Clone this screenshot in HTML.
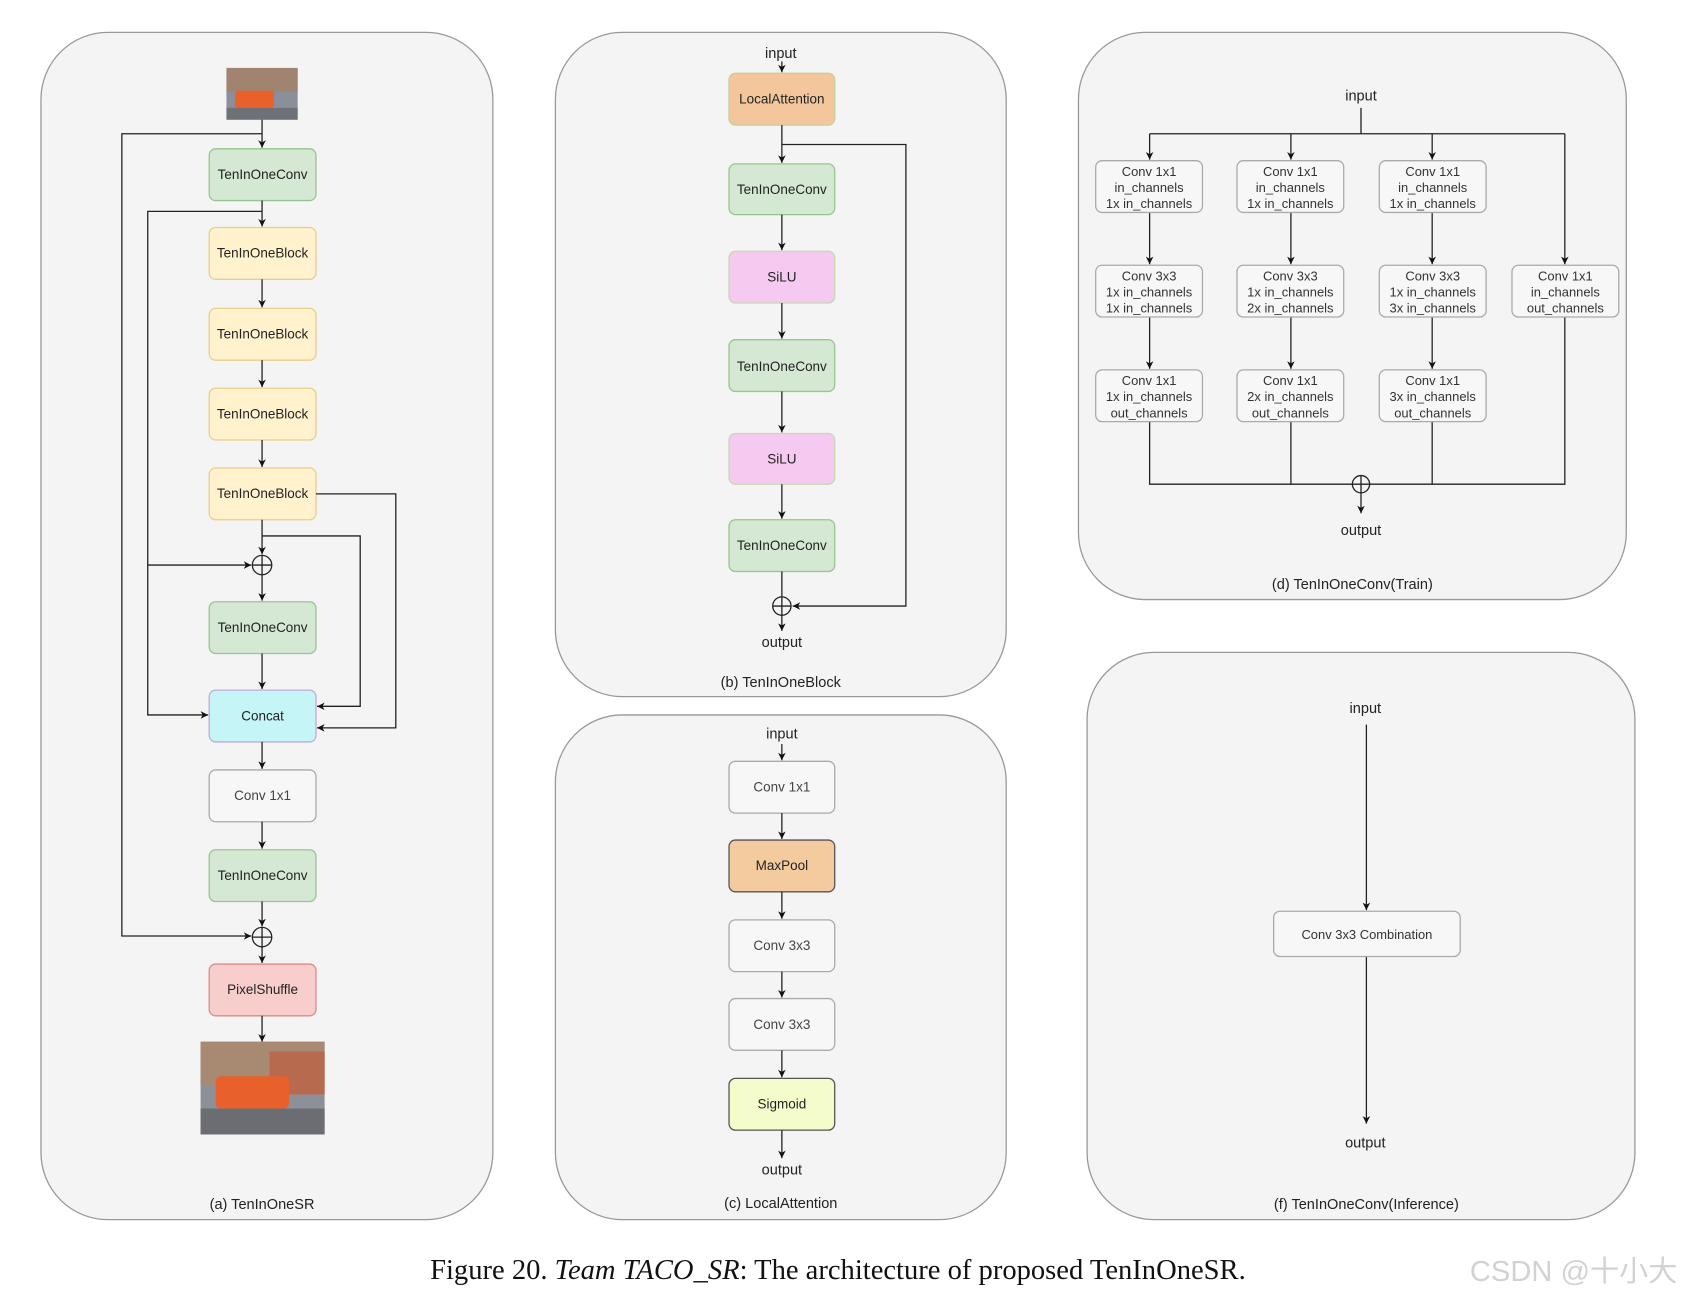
<!DOCTYPE html>
<html><head><meta charset="utf-8"><style>
html,body{margin:0;padding:0;background:#fff;width:1691px;height:1299px;overflow:hidden}
svg{display:block}
text{font-family:"Liberation Sans",Arial,sans-serif}
</style></head><body>
<svg width="1691" height="1299" viewBox="0 0 1568 1204.6" preserveAspectRatio="none" xmlns="http://www.w3.org/2000/svg">
<defs>
<marker id="ar" markerWidth="8" markerHeight="8" refX="7" refY="4" orient="auto" markerUnits="userSpaceOnUse"><path d="M0,0.5 L7,4 L0,7.5 L2,4 Z" fill="#111"/></marker>
</defs>
<g fill="#f4f4f4" stroke="#999" stroke-width="1.2">
<rect x="38" y="30" width="419" height="1101" rx="62"/>
<rect x="515" y="30" width="418" height="616" rx="62"/>
<rect x="515" y="663" width="418" height="468" rx="62"/>
<rect x="1000" y="30" width="508" height="526" rx="62"/>
<rect x="1008" y="605" width="508" height="526" rx="62"/>
</g>

<g>
<rect x="210" y="63" width="66" height="48" fill="#8a8f99"/>
<rect x="210" y="63" width="66" height="22" fill="#a08470"/>
<rect x="218" y="84" width="36" height="16" fill="#e8612b" rx="3"/>
<rect x="210" y="100" width="66" height="11" fill="#6f7178"/>
<rect x="186" y="966" width="115" height="86" fill="#8c9099"/>
<rect x="186" y="966" width="115" height="40" fill="#a88a72"/>
<rect x="250" y="975" width="51" height="40" fill="#b86a4e"/>
<rect x="200" y="998" width="68" height="30" fill="#e8612b" rx="5"/>
<rect x="186" y="1028" width="115" height="24" fill="#6b6d73"/>
</g>
<g stroke-width="1.2">
<g fill="#d5e8d4" stroke="#97c58e">
<rect x="194" y="138" width="99" height="48" rx="6"/>
<rect x="194" y="558" width="99" height="48" rx="6"/>
<rect x="194" y="788" width="99" height="48" rx="6"/>
<rect x="676" y="152" width="98" height="47" rx="6"/>
<rect x="676" y="315" width="98" height="48" rx="6"/>
<rect x="676" y="482" width="98" height="48" rx="6"/>
</g>
<g fill="#fff2cc" stroke="#e6cf8a">
<rect x="194" y="211" width="99" height="48" rx="6"/>
<rect x="194" y="286" width="99" height="48" rx="6"/>
<rect x="194" y="360" width="99" height="48" rx="6"/>
<rect x="194" y="434" width="99" height="48" rx="6"/>
</g>
<rect x="194" y="640" width="99" height="48" rx="6" fill="#c5f5f7" stroke="#c3a9d6"/>
<rect x="194" y="714" width="99" height="48" rx="6" fill="#f7f7f7" stroke="#aaa"/>
<rect x="194" y="894" width="99" height="48" rx="6" fill="#f8cecc" stroke="#dc8a88"/>
<rect x="676" y="68" width="98" height="48" rx="6" fill="#f3c79b" stroke="#c5cf9a"/>
<rect x="676" y="233" width="98" height="48" rx="6" fill="#f5c9f0" stroke="#c5d9b0"/>
<rect x="676" y="402" width="98" height="47" rx="6" fill="#f5c9f0" stroke="#c5d9b0"/>
<g fill="#f7f7f7" stroke="#aaa">
<rect x="676" y="706" width="98" height="48" rx="6"/>
<rect x="676" y="853" width="98" height="48" rx="6"/>
<rect x="676" y="926" width="98" height="48" rx="6"/>
</g>
<rect x="676" y="779" width="98" height="48" rx="6" fill="#f3cb9f" stroke="#555"/>
<rect x="676" y="1000" width="98" height="48" rx="6" fill="#f5fccc" stroke="#555"/>
</g>
<g font-size="12.5" text-anchor="middle" fill="#222">
<text x="243.5" y="166">TenInOneConv</text>
<text x="243.5" y="239">TenInOneBlock</text>
<text x="243.5" y="314">TenInOneBlock</text>
<text x="243.5" y="388">TenInOneBlock</text>
<text x="243.5" y="462">TenInOneBlock</text>
<text x="243.5" y="586">TenInOneConv</text>
<text x="243.5" y="668">Concat</text>
<text x="243.5" y="742" fill="#444">Conv 1x1</text>
<text x="243.5" y="816">TenInOneConv</text>
<text x="243.5" y="922">PixelShuffle</text>
<text x="725" y="96">LocalAttention</text>
<text x="725" y="180">TenInOneConv</text>
<text x="725" y="261">SiLU</text>
<text x="725" y="344">TenInOneConv</text>
<text x="725" y="430">SiLU</text>
<text x="725" y="510">TenInOneConv</text>
<text x="725" y="734" fill="#444">Conv 1x1</text>
<text x="725" y="807">MaxPool</text>
<text x="725" y="881" fill="#444">Conv 3x3</text>
<text x="725" y="954" fill="#444">Conv 3x3</text>
<text x="725" y="1028">Sigmoid</text>
</g>
<g font-size="13.5" text-anchor="middle" fill="#222">
<text x="243" y="1121">(a) TenInOneSR</text>
<text x="724" y="54">input</text>
<text x="725" y="600">output</text>
<text x="724" y="637">(b) TenInOneBlock</text>
<text x="725" y="685">input</text>
<text x="725" y="1089">output</text>
<text x="724" y="1120">(c) LocalAttention</text>
<text x="1262" y="93">input</text>
<text x="1262" y="496">output</text>
<text x="1254" y="546">(d) TenInOneConv(Train)</text>
<text x="1266" y="661">input</text>
<text x="1266" y="1064">output</text>
<text x="1267" y="1121">(f) TenInOneConv(Inference)</text>
</g>

<g fill="none" stroke="#222" stroke-width="1.2">
<path d="M243,111 V137" marker-end="url(#ar)"/>
<path d="M243,124 H113 V868 H233" marker-end="url(#ar)"/>
<path d="M243,186 V210" marker-end="url(#ar)"/>
<path d="M243,196 H137 V663 H193" marker-end="url(#ar)"/>
<path d="M137,524 H233" marker-end="url(#ar)"/>
<path d="M243,259 V285" marker-end="url(#ar)"/>
<path d="M243,334 V359" marker-end="url(#ar)"/>
<path d="M243,408 V433" marker-end="url(#ar)"/>
<path d="M243,482 V514" marker-end="url(#ar)"/>
<path d="M243,497 H334 V655 H294" marker-end="url(#ar)"/>
<path d="M293,458 H367 V675 H294" marker-end="url(#ar)"/>
<circle cx="243" cy="524" r="9"/><path d="M234,524H252M243,515V533"/>
<path d="M243,533 V557" marker-end="url(#ar)"/>
<path d="M243,606 V639" marker-end="url(#ar)"/>
<path d="M243,688 V713" marker-end="url(#ar)"/>
<path d="M243,762 V787" marker-end="url(#ar)"/>
<path d="M243,836 V859" marker-end="url(#ar)"/>
<circle cx="243" cy="869" r="9"/><path d="M234,869H252M243,860V878"/>
<path d="M243,878 V893" marker-end="url(#ar)"/>
<path d="M243,942 V966" marker-end="url(#ar)"/>
<path d="M725,57 V67" marker-end="url(#ar)"/>
<path d="M725,116 V151" marker-end="url(#ar)"/>
<path d="M725,134 H840 V562 H735" marker-end="url(#ar)"/>
<path d="M725,199 V232" marker-end="url(#ar)"/>
<path d="M725,281 V314" marker-end="url(#ar)"/>
<path d="M725,363 V401" marker-end="url(#ar)"/>
<path d="M725,449 V481" marker-end="url(#ar)"/>
<path d="M725,530 V553"/>
<circle cx="725" cy="562" r="8.5"/><path d="M716.5,562H733.5M725,553.5V570.5"/>
<path d="M725,570 V585" marker-end="url(#ar)"/>
<path d="M725,690 V705" marker-end="url(#ar)"/>
<path d="M725,754 V778" marker-end="url(#ar)"/>
<path d="M725,827 V852" marker-end="url(#ar)"/>
<path d="M725,901 V925" marker-end="url(#ar)"/>
<path d="M725,974 V999" marker-end="url(#ar)"/>
<path d="M725,1048 V1074" marker-end="url(#ar)"/>
<path d="M1262,100 V124 M1066,124 H1451"/>
<path d="M1066,124 V148" marker-end="url(#ar)"/>
<path d="M1197,124 V148" marker-end="url(#ar)"/>
<path d="M1328,124 V148" marker-end="url(#ar)"/>
<path d="M1451,124 V245" marker-end="url(#ar)"/>
<path d="M1066,197 V245" marker-end="url(#ar)"/>
<path d="M1197,197 V245" marker-end="url(#ar)"/>
<path d="M1328,197 V245" marker-end="url(#ar)"/>
<path d="M1066,294 V342" marker-end="url(#ar)"/>
<path d="M1197,294 V342" marker-end="url(#ar)"/>
<path d="M1328,294 V342" marker-end="url(#ar)"/>
<path d="M1066,391 V449 H1451 V294 M1197,391 V449 M1328,391 V449"/>
<circle cx="1262" cy="449" r="8" fill="#f4f4f4"/><path d="M1254,449H1270M1262,441V457"/>
<path d="M1262,457 V476" marker-end="url(#ar)"/>
<path d="M1267,672 V844" marker-end="url(#ar)"/>
<path d="M1267,887 V1042" marker-end="url(#ar)"/>
</g>
<g fill="#f7f7f7" stroke="#aaa" stroke-width="1.2">
<rect x="1016" y="149" width="99" height="48" rx="6"/>
<rect x="1147" y="149" width="99" height="48" rx="6"/>
<rect x="1279" y="149" width="99" height="48" rx="6"/>
<rect x="1016" y="246" width="99" height="48" rx="6"/>
<rect x="1147" y="246" width="99" height="48" rx="6"/>
<rect x="1279" y="246" width="99" height="48" rx="6"/>
<rect x="1402" y="246" width="99" height="48" rx="6"/>
<rect x="1016" y="343" width="99" height="48" rx="6"/>
<rect x="1147" y="343" width="99" height="48" rx="6"/>
<rect x="1279" y="343" width="99" height="48" rx="6"/>
<rect x="1181" y="845" width="173" height="42" rx="6"/>
</g>
<g font-size="12" text-anchor="middle" fill="#333">
<text x="1065.5" y="163">Conv 1x1</text><text x="1065.5" y="178">in_channels</text><text x="1065.5" y="193">1x in_channels</text>
<text x="1196.5" y="163">Conv 1x1</text><text x="1196.5" y="178">in_channels</text><text x="1196.5" y="193">1x in_channels</text>
<text x="1328.5" y="163">Conv 1x1</text><text x="1328.5" y="178">in_channels</text><text x="1328.5" y="193">1x in_channels</text>
<text x="1065.5" y="260">Conv 3x3</text><text x="1065.5" y="275">1x in_channels</text><text x="1065.5" y="290">1x in_channels</text>
<text x="1196.5" y="260">Conv 3x3</text><text x="1196.5" y="275">1x in_channels</text><text x="1196.5" y="290">2x in_channels</text>
<text x="1328.5" y="260">Conv 3x3</text><text x="1328.5" y="275">1x in_channels</text><text x="1328.5" y="290">3x in_channels</text>
<text x="1451.5" y="260">Conv 1x1</text><text x="1451.5" y="275">in_channels</text><text x="1451.5" y="290">out_channels</text>
<text x="1065.5" y="357">Conv 1x1</text><text x="1065.5" y="372">1x in_channels</text><text x="1065.5" y="387">out_channels</text>
<text x="1196.5" y="357">Conv 1x1</text><text x="1196.5" y="372">2x in_channels</text><text x="1196.5" y="387">out_channels</text>
<text x="1328.5" y="357">Conv 1x1</text><text x="1328.5" y="372">3x in_channels</text><text x="1328.5" y="387">out_channels</text>
<text x="1267.5" y="871">Conv 3x3 Combination</text>
</g>
<text x="777" y="1186" text-anchor="middle" font-size="26.5" style="font-family:'Liberation Serif',serif;fill:#111">Figure 20. <tspan font-style="italic">Team TACO_SR</tspan>: The architecture of proposed TenInOneSR.</text>
<text x="1363" y="1188" font-size="27" style="font-family:'Liberation Sans','Noto Sans CJK SC',sans-serif;fill:#d2d2d2">CSDN @十小大</text>
</svg>
</body></html>
